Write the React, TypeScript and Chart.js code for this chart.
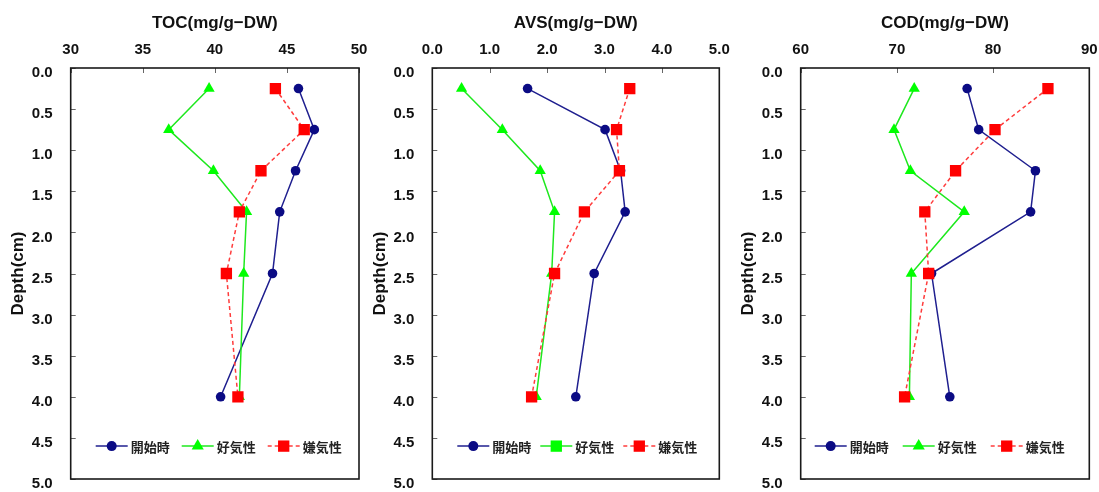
import React, { useEffect, useRef } from "react";
import { Chart, registerables } from "chart.js";

Chart.register(...registerables);

// ---- data ----
const DEPTHS = [0.25, 0.75, 1.25, 1.75, 2.5, 4.0];
const SERIES_LABELS = ["開始時", "好気性", "嫌気性"];

const TOC_START = [45.8, 46.9, 45.6, 44.5, 44.0, 40.4];
const TOC_AEROBIC = [39.6, 36.8, 39.9, 42.2, 42.0, 41.7];
const TOC_ANAEROBIC = [44.2, 46.2, 43.2, 41.7, 40.8, 41.6];

const AVS_START = [1.66, 3.01, 3.28, 3.36, 2.82, 2.5];
const AVS_AEROBIC = [0.51, 1.22, 1.88, 2.13, 2.08, 1.81];
const AVS_ANAEROBIC = [3.44, 3.21, 3.26, 2.65, 2.13, 1.73];

const COD_START = [77.3, 78.5, 84.4, 83.9, 73.6, 75.5];
const COD_AEROBIC = [71.8, 69.7, 71.4, 77.0, 71.5, 71.3];
const COD_ANAEROBIC = [85.7, 80.2, 76.1, 72.9, 73.3, 70.8];

const DEPTH_MIN = 0;
const DEPTH_MAX = 5;
const DEPTH_STEP = 0.5;
const LEGEND_DEPTH = 4.6;

const FONT = "'Liberation Sans', Arial, sans-serif";
const CJK = "'Noto Sans CJK JP', 'Noto Sans', sans-serif";

const STYLES = [
  { color: "#0b0b84", line: "#1f1f8f", pointStyle: "circle", radius: 4.8, dash: [] as number[], order: 2 },
  { color: "#00ff00", line: "#1ee81e", pointStyle: "triangle", radius: 6.5, dash: [] as number[], order: 1 },
  { color: "#ff0000", line: "#ff3c3c", pointStyle: "rect", radius: 8, dash: [4, 3], order: 0 },
];

type Panel = {
  title: string;
  series: number[][];
  min: number;
  max: number;
  step: number;
  decimals: number;
  legendStyles: string[];
  left: number;
  width: number;
  yWidth: number;
  padRight: number;
  legendX: number;
  legendGap: number;
};

const PANELS: Panel[] = [
  {
    title: "TOC(mg/g\u2212DW)",
    series: [TOC_START, TOC_AEROBIC, TOC_ANAEROBIC],
    min: 30, max: 50, step: 5, decimals: 0,
    legendStyles: ["circle", "triangle", "rect"],
    left: 0, width: 368, yWidth: 70.7, padRight: 9, legendX: 25, legendGap: 86,
  },
  {
    title: "AVS(mg/g\u2212DW)",
    series: [AVS_START, AVS_AEROBIC, AVS_ANAEROBIC],
    min: 0, max: 5, step: 1, decimals: 1,
    legendStyles: ["circle", "rect", "rect"],
    left: 362, width: 368, yWidth: 70.3, padRight: 10.7, legendX: 25, legendGap: 83,
  },
  {
    title: "COD(mg/g\u2212DW)",
    series: [COD_START, COD_AEROBIC, COD_ANAEROBIC],
    min: 60, max: 90, step: 10, decimals: 0,
    legendStyles: ["circle", "triangle", "rect"],
    left: 730, width: 369, yWidth: 70.7, padRight: 9.7, legendX: 14, legendGap: 88,
  },
];

const CANVAS_HEIGHT = 492;
const X_AXIS_HEIGHT = 68;
const PAD_BOTTOM = 13;

function drawMarker(ctx: CanvasRenderingContext2D, style: string, x: number, y: number, r: number, color: string) {
  ctx.save();
  ctx.fillStyle = color;
  ctx.beginPath();
  if (style === "circle") {
    ctx.arc(x, y, r, 0, Math.PI * 2);
  } else if (style === "triangle") {
    ctx.moveTo(x, y - r);
    ctx.lineTo(x + r * 0.866, y + r * 0.5);
    ctx.lineTo(x - r * 0.866, y + r * 0.5);
    ctx.closePath();
  } else {
    const s = r * Math.SQRT1_2;
    ctx.rect(x - s, y - s, 2 * s, 2 * s);
  }
  ctx.fill();
  ctx.restore();
}

function makeFramePlugin() {
  return {
    id: "frameTicks",
    beforeDatasetsDraw(chart: any) {
      const { ctx, chartArea } = chart;
      const xs = chart.scales.x;
      const ys = chart.scales.y;
      ctx.save();
      ctx.strokeStyle = "#666";
      ctx.lineWidth = 1;
      ys.ticks.forEach((t: any) => {
        const py = Math.round(ys.getPixelForValue(t.value)) + 0.5;
        ctx.beginPath();
        ctx.moveTo(chartArea.left, py);
        ctx.lineTo(chartArea.left + 5, py);
        ctx.stroke();
      });
      xs.ticks.forEach((t: any) => {
        const px = Math.round(xs.getPixelForValue(t.value)) + 0.5;
        ctx.beginPath();
        ctx.moveTo(px, chartArea.top);
        ctx.lineTo(px, chartArea.top + 5);
        ctx.stroke();
      });
      ctx.strokeStyle = "#1a1a1a";
      ctx.lineWidth = 1.6;
      ctx.strokeRect(chartArea.left, chartArea.top, chartArea.right - chartArea.left, chartArea.bottom - chartArea.top);
      ctx.restore();
    },
  };
}

function makeLegendPlugin(panel: Panel) {
  return {
    id: "inlineLegend",
    afterDatasetsDraw(chart: any) {
      const { ctx, chartArea } = chart;
      const y = chart.scales.y.getPixelForValue(LEGEND_DEPTH);
      ctx.save();
      SERIES_LABELS.forEach((label, i) => {
        const st = STYLES[i];
        const x0 = chartArea.left + panel.legendX + i * panel.legendGap;
        const len = 32;
        ctx.strokeStyle = st.line;
        ctx.lineWidth = 1.5;
        ctx.setLineDash(st.dash);
        ctx.beginPath();
        ctx.moveTo(x0, y);
        ctx.lineTo(x0 + len, y);
        ctx.stroke();
        ctx.setLineDash([]);
        const ps = panel.legendStyles[i];
        const r = ps === "circle" ? 5 : ps === "triangle" ? 7 : 8;
        drawMarker(ctx, ps, x0 + len / 2, y, r, st.color);
        ctx.fillStyle = "#222";
        ctx.font = `bold 13px ${CJK}`;
        ctx.textBaseline = "middle";
        ctx.textAlign = "left";
        ctx.fillText(label, x0 + len + 3, y + 1);
      });
      ctx.restore();
    },
  };
}

function PanelChart({ panel }: { panel: Panel }) {
  const ref = useRef<HTMLCanvasElement | null>(null);
  useEffect(() => {
    if (!ref.current) return;
    const datasets = panel.series.map((vals, i) => {
      const st = STYLES[i];
      return {
        label: SERIES_LABELS[i],
        data: DEPTHS.map((d, k) => ({ x: vals[k], y: d })),
        showLine: true,
        borderColor: st.line,
        borderWidth: 1.5,
        borderDash: st.dash,
        backgroundColor: st.color,
        pointBackgroundColor: st.color,
        pointBorderColor: st.color,
        pointBorderWidth: 0,
        pointStyle: st.pointStyle,
        pointRadius: st.radius,
        pointHoverRadius: st.radius,
        order: st.order,
        tension: 0,
      };
    });
    const chart = new Chart(ref.current, {
      type: "scatter",
      data: { datasets } as any,
      options: {
        animation: false,
        responsive: false,
        maintainAspectRatio: false,
        devicePixelRatio: 1,
        layout: { padding: 0 },
        plugins: { legend: { display: false }, tooltip: { enabled: false } },
        scales: {
          x: {
            type: "linear",
            position: "top",
            min: panel.min,
            max: panel.max,
            ticks: {
              stepSize: panel.step,
              autoSkip: false,
              maxRotation: 0,
              padding: 9,
              color: "#111",
              font: { family: FONT, size: 15, weight: "bold" },
              callback: (v: any) => Number(v).toFixed(panel.decimals),
            },
            grid: { display: false, drawTicks: false },
            border: { display: false },
            title: {
              display: true,
              text: panel.title,
              color: "#111",
              font: { family: FONT, size: 17, weight: "bold" },
              padding: { top: 13, bottom: 0 },
            },
            afterFit: (s: any) => {
              s.height = X_AXIS_HEIGHT;
              s.paddingLeft = 0;
              s.paddingRight = panel.padRight;
            },
          },
          y: {
            type: "linear",
            reverse: true,
            min: DEPTH_MIN,
            max: DEPTH_MAX,
            ticks: {
              stepSize: DEPTH_STEP,
              autoSkip: false,
              padding: 18,
              labelOffset: 5,
              color: "#111",
              font: { family: FONT, size: 15, weight: "bold" },
              callback: (v: any) => Number(v).toFixed(1),
            },
            grid: { display: false, drawTicks: false },
            border: { display: false },
            title: {
              display: true,
              text: "Depth(cm)",
              color: "#111",
              font: { family: FONT, size: 17, weight: "bold" },
              padding: { top: 8, bottom: 0 },
            },
            afterFit: (s: any) => {
              s.width = panel.yWidth;
              s.paddingTop = 0;
              s.paddingBottom = PAD_BOTTOM;
            },
          },
        },
      } as any,
      plugins: [makeFramePlugin(), makeLegendPlugin(panel)] as any,
    });
    return () => chart.destroy();
  }, [panel]);
  return (
    <canvas
      ref={ref}
      width={panel.width}
      height={CANVAS_HEIGHT}
      style={{ position: "absolute", left: panel.left, top: 0, width: panel.width, height: CANVAS_HEIGHT }}
    />
  );
}

export default function App() {
  return (
    <div style={{ position: "fixed", left: 0, top: 0, width: 1099, height: 492, background: "#fff", overflow: "hidden" }}>
      {PANELS.map((p, i) => (
        <PanelChart key={i} panel={p} />
      ))}
    </div>
  );
}
